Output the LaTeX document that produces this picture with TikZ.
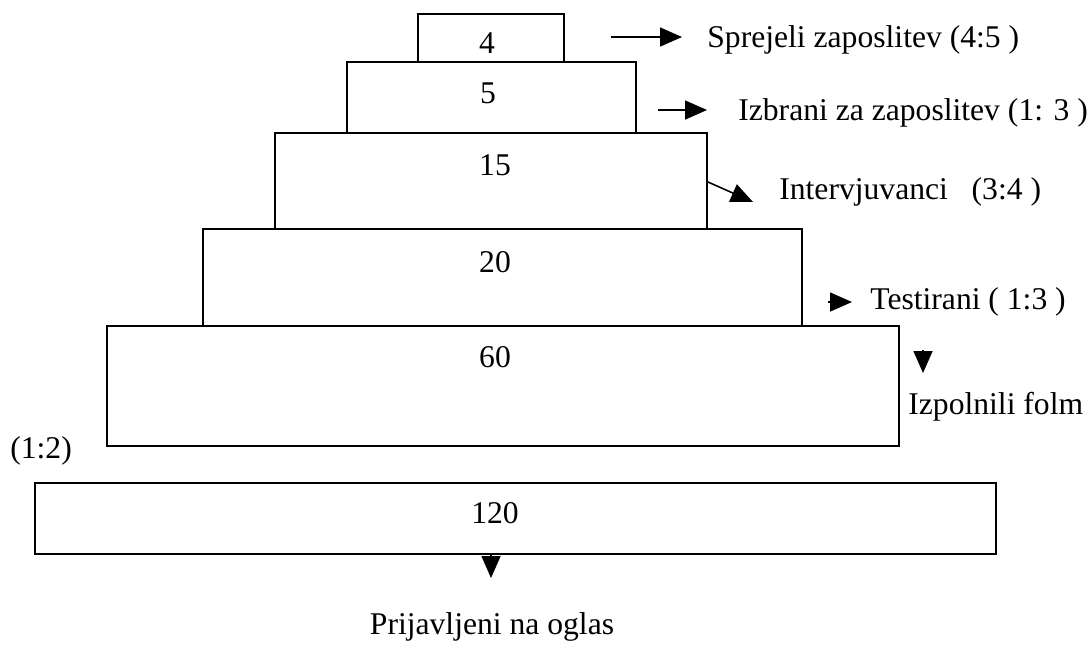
\documentclass[tikz,border=0pt]{standalone}
\usepackage{fontspec}
\setmainfont{Liberation Serif}
\usetikzlibrary{arrows.meta}
\usetikzlibrary{positioning}
\tikzset{stage box/.style={rectangle,draw,line width=1.1pt,inner sep=0pt,outer sep=0pt,anchor=north west},}
\tikzset{count/.style={inner sep=0pt,font=\fontsize{18}{21}\selectfont},}
\tikzset{stage label/.style={inner sep=0pt,anchor=west,font=\fontsize{18}{21}\selectfont},}
\tikzset{flow arrow/.style={-{Triangle[length=0.44cm,width=0.38cm]},line width=0.9pt},}

\begin{document}
\begin{tikzpicture}[x=0.02cm,y=-0.02cm]
     \useasboundingbox (0,0) rectangle (1091,647);
     \node[stage box,minimum width=2.92cm,minimum height=0.96cm] (s4) at (418,14) {};
     \node[stage box,minimum width=5.78cm,minimum height=1.42cm] (s5) at (347,62) {};
     \node[stage box,minimum width=8.64cm,minimum height=1.92cm] (s15) at (275,133) {};
     \node[stage box,minimum width=11.98cm,minimum height=1.94cm] (s20) at (203,229) {};
     \node[stage box,minimum width=15.84cm,minimum height=2.40cm] (s60) at (107,326) {};
     \node[stage box,minimum width=19.22cm,minimum height=1.42cm] (s120) at (35,483) {};

     \node[count] (n4) at (487,43) {4};
     \node[count] (n5) at (488,93) {5};
     \node[count] (n15) at (495,165) {15};
     \node[count] (n20) at (495,262) {20};
     \node[count] (n60) at (495,357) {60};
     \node[count] (n120) at (495,513) {120};

     \node[stage label] (l4) at (707,40) {Sprejeli zaposlitev (4:5 )};
     \node[stage label] (l5) at (738,113) {Izbrani za zaposlitev (1: 3 )};
     \node[stage label] (l15) at (779,192) {Intervjuvanci\ \ \ (3:4 )};
     \node[stage label] (l20) at (870,302) {Testirani ( 1:3 )};
     \node[stage label] (l60) at (908,407) {Izpolnili folm};
     \node[stage label] (l120) at (10,451) {(1:2)};
     \node[count] (l0) at (492,627) {Prijavljeni na oglas};

     \coordinate (a4) at (611,37);
     \coordinate (a5) at (658,110);
     \coordinate (a15) at (708,182);
     \coordinate (b15) at (753,202);
     \coordinate (a20) at (828,302);
     \coordinate (a60) at (923,350);
     \coordinate (b60) at (923,373);
     \coordinate (a120) at (491,554);
     \coordinate (b120) at (491,578);

     \path[flow arrow]
     (a4) edge[shorten >=0.5cm] (a4 -| l4.west)
     (a5) edge[shorten >=0.62cm] (a5 -| l5.west)
     (a15) edge (b15)
     (a20) edge[shorten >=0.36cm] (a20 -| l20.west)
     (a60) edge (b60)
     (a120) edge (b120);
  \end{tikzpicture}
\end{document}
